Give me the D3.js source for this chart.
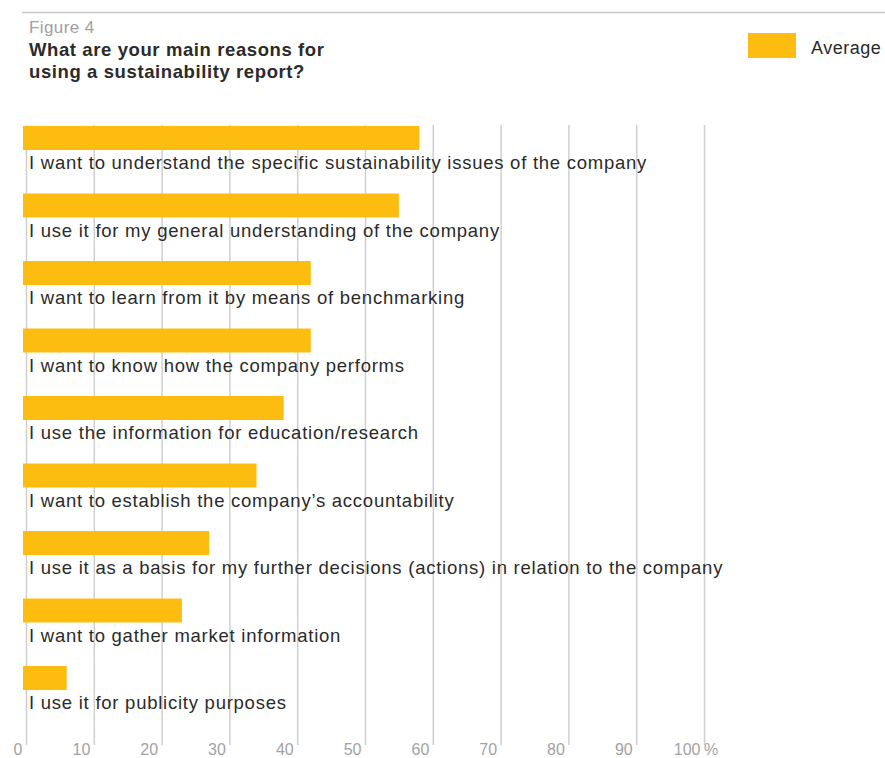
<!DOCTYPE html>
<html>
<head>
<meta charset="utf-8">
<script src="https://cdn.jsdelivr.net/npm/d3@7"></script>
<style>
body { margin: 0; background: #fff; }
svg { display: block; font-family: "Liberation Sans", Arial, sans-serif; }
.tick line { stroke: #cfcfcf; stroke-width: 1.5; }
.tick text { fill: #a3a3a3; font-size: 16px; }
.domain { display: none; }
</style>
</head>
<body>
<svg width="885" height="758"></svg>
<script>
const width = 885;
const height = 758;

// reasons, top to bottom
const reasons = [
  "I want to understand the specific sustainability issues of the company",
  "I use it for my general understanding of the company",
  "I want to learn from it by means of benchmarking",
  "I want to know how the company performs",
  "I use the information for education/research",
  "I want to establish the company\u2019s accountability",
  "I use it as a basis for my further decisions (actions) in relation to the company",
  "I want to gather market information",
  "I use it for publicity purposes"
];
// Average, % of respondents
const average = [58, 55, 42, 42, 38, 34, 27, 23, 6];
const xTicks = [0, 10, 20, 30, 40, 50, 60, 70, 80, 90, 100];

const svg = d3.select("svg");

const x = d3.scaleLinear()
  .domain([0, 100])
  .range([26, 704]);

const y = d3.scaleBand()
  .domain(reasons)
  .range([126, 126 + 9 * 67.5]);

const barH = 24;

// top rule
svg.append("line")
  .attr("x1", 22).attr("x2", width)
  .attr("y1", 12.5).attr("y2", 12.5)
  .attr("stroke", "#c8c8c8")
  .attr("stroke-width", 1.5);

svg.append("text")
  .attr("x", 29).attr("y", 33)
  .attr("fill", "#a0a0a0")
  .style("font-size", "17px")
  .style("letter-spacing", "0.4px")
  .text("Figure 4");

const title = ["What are your main reasons for", "using a sustainability report?"];
svg.append("g")
  .selectAll("text")
  .data(title)
  .join("text")
  .attr("x", 29)
  .attr("y", (d, i) => 56 + i * 22)
  .attr("fill", "#2b2b2b")
  .style("font-size", "18.5px")
  .style("font-weight", "bold")
  .style("letter-spacing", "0.6px")
  .text(d => d);

// legend
svg.append("rect")
  .attr("x", 748).attr("y", 33)
  .attr("width", 48).attr("height", 25)
  .attr("fill", "#fdbd10");
svg.append("text")
  .attr("x", 811).attr("y", 54)
  .attr("fill", "#2b2b2b")
  .style("font-size", "18px")
  .style("letter-spacing", "0.5px")
  .text("Average");

// grid + axis
const axis = d3.axisBottom(x)
  .tickValues(xTicks)
  .tickSizeInner(-(745 - 125))
  .tickSizeOuter(0)
  .tickPadding(0)
  .tickFormat(d => d);

const gx = svg.append("g")
  .attr("transform", "translate(0,745)")
  .call(axis);

gx.selectAll(".tick text")
  .attr("text-anchor", "end")
  .attr("dx", -4)
  .attr("y", 10)
  .attr("dy", "0");

gx.append("text")
  .attr("x", x(100) + 7)
  .attr("y", 10)
  .attr("fill", "#a3a3a3")
  .style("font-size", "16px")
  .text("%");

// bars
svg.append("g")
  .selectAll("rect")
  .data(reasons)
  .join("rect")
  .attr("x", x(0) - 3)
  .attr("y", d => y(d))
  .attr("width", (d, i) => x(average[i]) - x(0) + 3)
  .attr("height", barH)
  .attr("fill", "#fdbd10");

// labels under each bar
svg.append("g")
  .selectAll("text")
  .data(reasons)
  .join("text")
  .attr("x", 29)
  .attr("y", d => y(d) + 43)
  .attr("fill", "#2b2b2b")
  .style("font-size", "18.5px")
  .style("letter-spacing", "0.75px")
  .text(d => d);
</script>
</body>
</html>
